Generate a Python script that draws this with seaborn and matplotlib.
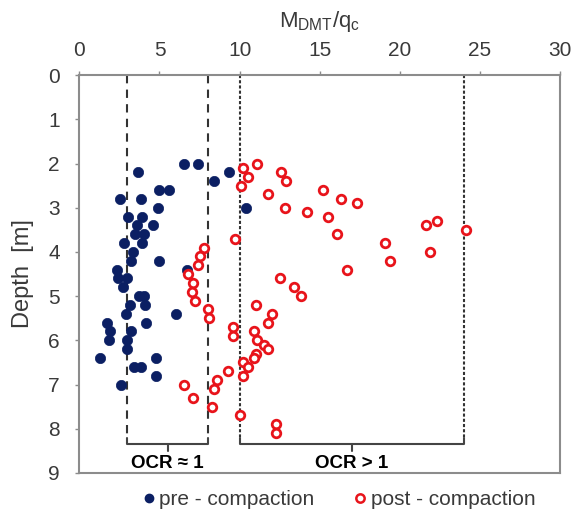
import numpy as np
import pandas as pd
import matplotlib
matplotlib.use("Agg")
import matplotlib.pyplot as plt
import seaborn as sns
from matplotlib.lines import Line2D

# ---- data ----
pre_ratio = [6.55, 7.39, 3.68, 9.34, 8.41, 4.99, 5.61, 2.53, 3.84, 4.93, 10.41,
             3.05, 3.93, 3.58, 4.58, 3.47, 4.05, 2.80, 3.89, 3.33, 3.22, 4.99,
             6.70, 2.33, 2.43, 2.99, 2.70, 3.74, 4.03, 3.16, 4.09, 6.03, 2.89,
             1.74, 4.16, 1.91, 3.22, 1.86, 2.95, 2.95, 1.28, 4.78, 3.43, 3.83,
             4.78, 2.58]
pre_depth = [2.0, 2.0, 2.2, 2.2, 2.4, 2.6, 2.6, 2.8, 2.8, 3.0, 3.0,
             3.2, 3.2, 3.4, 3.4, 3.6, 3.6, 3.8, 3.8, 4.0, 4.2, 4.2,
             4.4, 4.4, 4.6, 4.6, 4.8, 5.0, 5.0, 5.2, 5.2, 5.4, 5.4,
             5.6, 5.6, 5.8, 5.8, 6.0, 6.0, 6.2, 6.4, 6.4, 6.6, 6.6,
             6.8, 7.0]

post_ratio = [11.1, 10.2, 12.6, 10.5, 12.9, 10.1, 15.2, 11.8, 16.3, 17.3,
              12.8, 14.2, 15.5, 22.3, 21.6, 24.1, 16.1, 9.7, 19.1, 7.8,
              21.9, 7.5, 19.4, 7.4, 16.7, 6.8, 12.5, 7.1, 13.4, 7.0,
              13.8, 7.2, 11.0, 8.0, 12.0, 8.1, 11.8, 9.6, 10.9, 9.6,
              11.1, 11.5, 11.8, 11.0, 10.9, 10.2, 10.5, 9.3, 10.2, 8.6,
              6.5, 8.4, 7.1, 8.3, 10.0, 12.3, 12.3]
post_depth = [2.0, 2.1, 2.2, 2.3, 2.4, 2.5, 2.6, 2.7, 2.8, 2.9,
              3.0, 3.1, 3.2, 3.3, 3.4, 3.5, 3.6, 3.7, 3.8, 3.9,
              4.0, 4.1, 4.2, 4.3, 4.4, 4.5, 4.6, 4.7, 4.8, 4.9,
              5.0, 5.1, 5.2, 5.3, 5.4, 5.5, 5.6, 5.7, 5.8, 5.9,
              6.0, 6.1, 6.2, 6.3, 6.4, 6.5, 6.6, 6.7, 6.8, 6.9,
              7.0, 7.1, 7.3, 7.5, 7.7, 7.9, 8.1]

x_ticks = [0, 5, 10, 15, 20, 25, 30]
y_ticks = [0, 1, 2, 3, 4, 5, 6, 7, 8, 9]
ocr1_bounds = [3, 8]
ocr2_bounds = [10, 24]
zone_labels = ["OCR \u2248 1", "OCR > 1"]
series_names = ["pre - compaction", "post - compaction"]

# ---- style ----
sns.set_theme(style="white")
plt.rcParams['font.family'] = ['Liberation Sans', 'DejaVu Sans']
plt.rcParams['mathtext.fontset'] = 'custom'
plt.rcParams['mathtext.rm'] = 'Liberation Sans'

blue = '#0b1f63'
red = '#e8141b'
grey = '#8c8c8c'
txt = '#3a3a3a'

fig = plt.figure(figsize=(5.71, 5.18), dpi=100)
ax = fig.add_axes([0.139, 0.087, 0.842, 0.768])

pre_df = pd.DataFrame({"ratio": pre_ratio, "depth": pre_depth})
post_df = pd.DataFrame({"ratio": post_ratio, "depth": post_depth})

sns.scatterplot(data=pre_df, x="ratio", y="depth", ax=ax, color=blue,
                s=55, edgecolor=blue, linewidth=0.5, zorder=3)
sns.scatterplot(data=post_df, x="ratio", y="depth", ax=ax, facecolor='white',
                edgecolor=red, s=38, linewidth=2.0, zorder=4)

# dashed boundaries
ybr = 8.35
for xv in ocr1_bounds:
    ax.plot([xv, xv], [0, 8.2], color='#333333', lw=1.5, ls=(0, (4, 3)), zorder=2)
for xv in ocr2_bounds:
    ax.plot([xv, xv], [0, 8.2], color='#333333', lw=1.5, ls=(0, (1.5, 1)), zorder=2)

# brackets
for (a, b) in [ocr1_bounds, ocr2_bounds]:
    ax.plot([a, a, b, b], [8.2, ybr, ybr, 8.2], color='#444444', lw=1.5,
            solid_joinstyle='round', zorder=2)
    mid = (a + b) / 2
    ax.plot([mid, mid], [ybr, ybr + 0.15], color='#444444', lw=1.5, zorder=2)

ax.text(np.mean(ocr1_bounds), 8.78, zone_labels[0], ha='center', va='center',
        fontsize=13.5, fontweight='bold', color='black')
ax.text(np.mean(ocr2_bounds), 8.78, zone_labels[1], ha='center', va='center',
        fontsize=13.5, fontweight='bold', color='black')

ax.set_xlim(0, 30)
ax.set_ylim(9, 0)
ax.set_xticks(x_ticks)
ax.set_yticks(y_ticks)
ax.xaxis.tick_top()
ax.xaxis.set_label_position('top')
ax.set_xlabel(r'M$_\mathregular{DMT}$/q$_\mathregular{c}$', fontsize=16, color=txt,
              labelpad=10)
ax.set_ylabel('Depth  [m]', fontsize=17, color=txt, labelpad=10)
ax.tick_params(axis='both', which='both', labelsize=15, colors=grey,
               labelcolor=txt, length=3, width=1, direction='out',
               top=True, left=True, bottom=False, right=False)
ax.tick_params(axis='x', pad=8)
ax.tick_params(axis='y', pad=11)
for sp in ax.spines.values():
    sp.set_color(grey)
    sp.set_linewidth(1.5)

handles = [
    Line2D([], [], ls='none', marker='o', markersize=6, markerfacecolor=blue,
           markeredgecolor=blue),
    Line2D([], [], ls='none', marker='o', markersize=6, markerfacecolor='white',
           markeredgecolor=red, markeredgewidth=1.8),
]
leg = fig.legend(handles, series_names, loc='center', ncol=2,
                 bbox_to_anchor=(0.592, 0.035), frameon=False, fontsize=15,
                 handletextpad=0.1, columnspacing=1.8, handlelength=0.8)
for t in leg.get_texts():
    t.set_color(txt)

fig.savefig('out.png', dpi=100)
